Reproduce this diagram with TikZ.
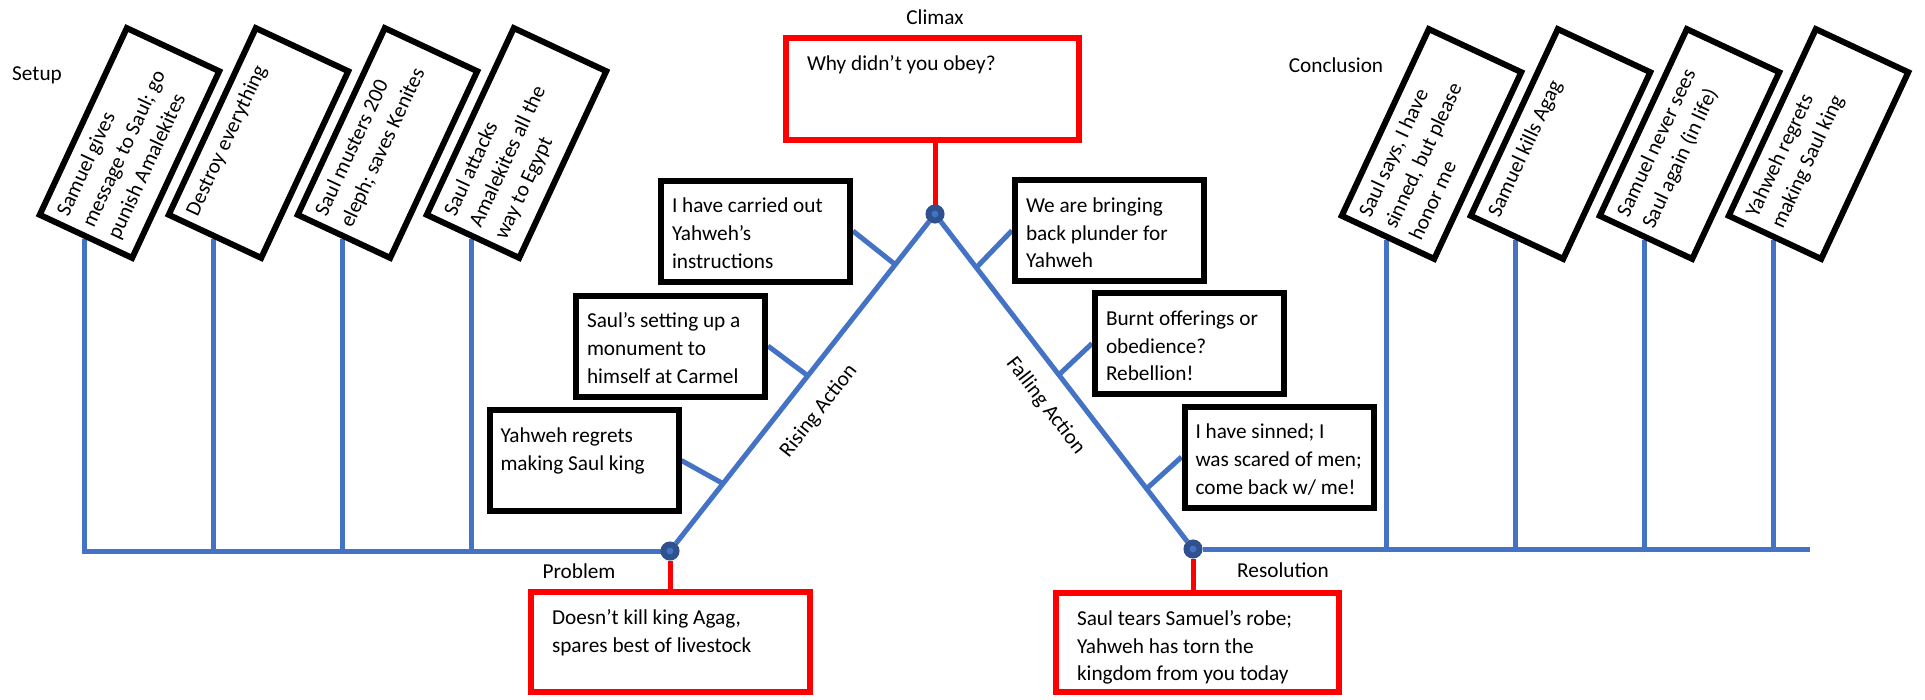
\documentclass[tikz,border=0pt]{standalone}
\usepackage{fontspec}
\setmainfont{Carlito}
\usetikzlibrary{calc,backgrounds}

\definecolor{plotblue}{HTML}{4472C4}
\definecolor{dotblue}{HTML}{2F528F}
\newcommand{\boxtext}[3]{\parbox[c][#2][t]{#1}{\begin{tabular}[t]{@{}l@{}}#3\end{tabular}}}

\tikzset{
  event/.style={draw=black,line width=1.2mm,fill=white,inner xsep=2.2mm,inner ysep=2.5mm},
  keybox/.style={draw=red,line width=1.1mm,fill=white,inner xsep=4.2mm,inner ysep=2.5mm},
  tilted/.style={event,rotate=65,inner xsep=2mm,inner ysep=1.5mm},
  plotdot/.style={circle,draw=dotblue,fill=plotblue,line width=1.2mm,minimum size=2.6mm,inner sep=0},
  plotline/.style={draw=plotblue,line width=1mm},
  redline/.style={draw=red,line width=1mm},
  stage/.style={inner sep=0}
}

\begin{document}
\begin{tikzpicture}[x=0.2mm,y=-0.2mm,font=\fontsize{12.1}{15.9}\selectfont]
\useasboundingbox (0,0) rectangle (1925,699);

\node[plotdot] (prob) at (670,551) {};
\node[plotdot] (climax) at (935,214) {};
\node[plotdot] (resol) at (1193,549) {};

\node[keybox] (climaxbox) at (932.5,89) {\boxtext{50.2mm}{15.4mm}{Why didn’t you obey?}};
\node[keybox] (probbox) at (670.5,642) {\boxtext{47.4mm}{15mm}{Doesn’t kill king Agag,\\ spares best of livestock}};
\node[keybox] (resolbox) at (1197.5,642.5) {\boxtext{48.2mm}{14.8mm}{Saul tears Samuel’s robe;\\ Yahweh has torn the\\ kingdom from you today}};

\node[stage] (setup) at (37,75) {Setup};
\node[stage] (conclusion) at (1336,65) {Conclusion};
\node[stage] (climaxlbl) at (935,17) {Climax};
\node[stage] (problbl) at (579,571) {Problem};
\node[stage] (resollbl) at (1283,570) {Resolution};

\node[tilted] (set1) at (129.5,143) {\boxtext{37.2mm}{17.4mm}{Samuel gives\\ message to Saul; go\\ punish Amalekites}};
\node[tilted] (set2) at (258.5,143) {\boxtext{37.2mm}{17.4mm}{Destroy everything}};
\node[tilted] (set3) at (387.5,143) {\boxtext{37.2mm}{17.4mm}{Saul musters 200\\ eleph; saves Kenites}};
\node[tilted] (set4) at (516.5,143) {\boxtext{37.2mm}{17.4mm}{Saul attacks\\ Amalekites all the\\ way to Egypt}};

\node[tilted] (end1) at (1431.5,144) {\boxtext{37.2mm}{17.4mm}{Saul says, I have\\ sinned, but please\\ honor me}};
\node[tilted] (end2) at (1560.5,144) {\boxtext{37.2mm}{17.4mm}{Samuel kills Agag}};
\node[tilted] (end3) at (1689.5,144) {\boxtext{37.2mm}{17.4mm}{Samuel never sees\\ Saul again (in life)}};
\node[tilted] (end4) at (1818.5,144) {\boxtext{37.2mm}{17.4mm}{Yahweh regrets\\ making Saul king}};

\node[event] (regrets) at (584,460.5) {\boxtext{33.4mm}{15.2mm}{Yahweh regrets\\ making Saul king}};
\node[event] (monument) at (670.5,346) {\boxtext{33.4mm}{15.2mm}{Saul’s setting up a\\ monument to\\ himself at Carmel}};
\node[event] (carried) at (755.5,231) {\boxtext{33.4mm}{15.2mm}{I have carried out\\ Yahweh’s\\ instructions}};
\node[event] (plunder) at (1109.5,230.5) {\boxtext{33.4mm}{15.2mm}{We are bringing\\ back plunder for\\ Yahweh}};
\node[event] (burnt) at (1189.5,343.5) {\boxtext{33.4mm}{15.2mm}{Burnt offerings or\\ obedience?\\ Rebellion!}};
\node[event] (sinned) at (1279,457) {\boxtext{33.4mm}{15.2mm}{I have sinned; I\\ was scared of men;\\ come back w/ me!}};

\path (prob) -- (climax) node[pos=0.47,sloped,below=4.2mm,inner sep=0] (rising) {Rising Action};
\path (climax) -- (resol) node[pos=0.52,sloped,below=4mm,inner sep=0] (falling) {Falling Action};

\begin{scope}[on background layer]
\coordinate (r1) at ($(prob)!0.2!(climax)$);
\coordinate (r2) at ($(prob)!0.52!(climax)$);
\coordinate (r3) at ($(prob)!0.85!(climax)$);
\coordinate (f1) at ($(climax)!0.16!(resol)$);
\coordinate (f2) at ($(climax)!0.48!(resol)$);
\coordinate (f3) at ($(climax)!0.82!(resol)$);
\coordinate (rend) at (1810,549);
\draw[plotline] (set1.west) |- (prob);
\foreach \n in {2,3,4}
  \draw[plotline] (set\n.west) -- (set\n.west |- prob);
\draw[plotline] (resol) -- (rend);
\foreach \n in {1,...,4}
  \draw[plotline] (end\n.west) -- (end\n.west |- resol);
\draw[plotline] (prob) -- (climax) -- (resol);
\draw[plotline] (regrets.east) -- (r1);
\draw[plotline] (monument.east) -- (r2);
\draw[plotline] (carried.east) -- (r3);
\draw[plotline] (plunder.west) -- (f1);
\draw[plotline] (burnt.west) -- (f2);
\draw[plotline] (sinned.west) -- (f3);
\draw[redline] (climax) -- (climax |- climaxbox.south);
\draw[redline] (prob) -- (prob |- probbox.north);
\draw[redline] (resol) -- (resol |- resolbox.north);
\end{scope}
\end{tikzpicture}
\end{document}
